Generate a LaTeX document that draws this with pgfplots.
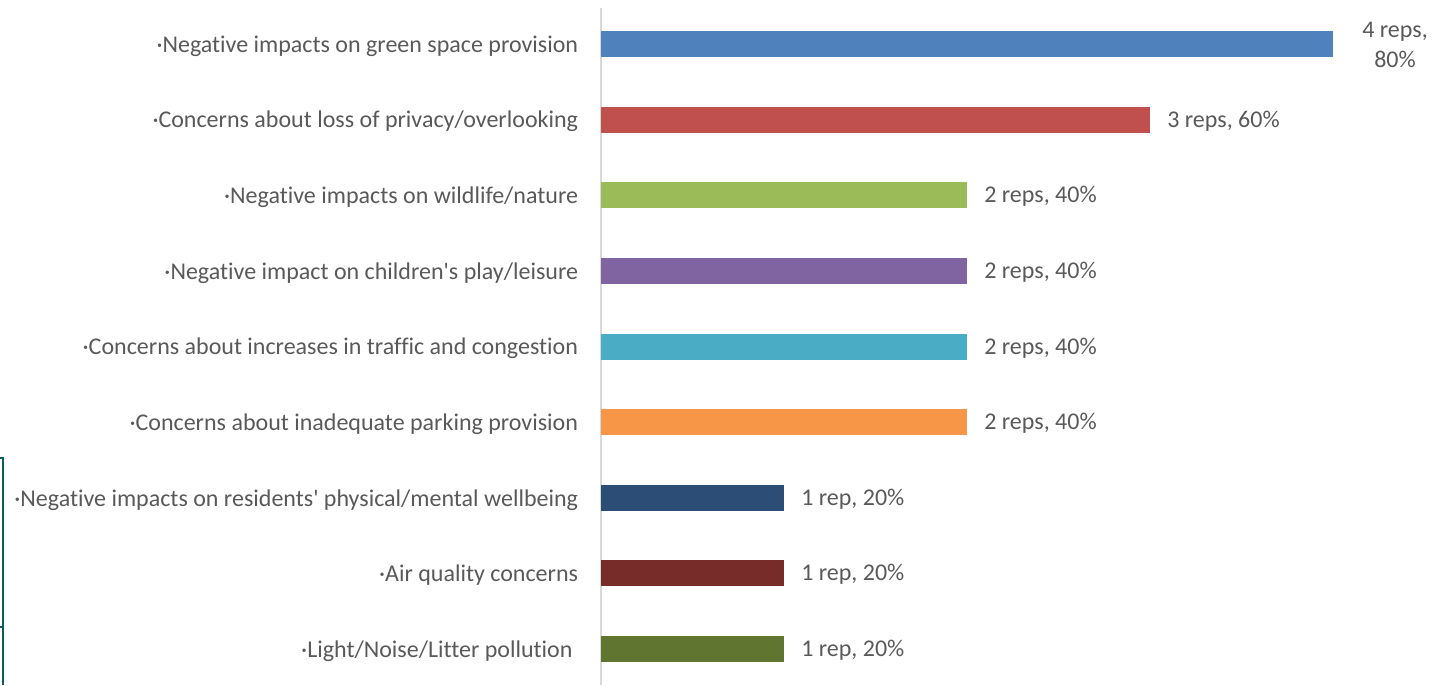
\documentclass[border=0pt]{standalone}
\usepackage{pgfplots}
\pgfplotsset{compat=1.18}
\usepackage{fontspec}
\setmainfont{Carlito}
% plain family without TeX quote mapping or ligatures, so apostrophes stay straight
\newfontfamily\labelfont[Ligatures=NoCommon]{Carlito}
\definecolor{txt}{HTML}{595959}
\definecolor{c1}{HTML}{4F81BD}
\definecolor{c2}{HTML}{C0504D}
\definecolor{c3}{HTML}{9BBB59}
\definecolor{c4}{HTML}{8064A2}
\definecolor{c5}{HTML}{4BACC6}
\definecolor{c6}{HTML}{F79646}
\definecolor{c7}{HTML}{2C4D75}
\definecolor{c8}{HTML}{772C2A}
\definecolor{c9}{HTML}{5F7530}
\definecolor{frame}{HTML}{0E5C5C}
\begin{document}
\begin{tikzpicture}
\begin{axis}[
  at={(450.75pt,0pt)}, anchor=south west,
  scale only axis,
  width=549pt, height=507.75pt,
  xmin=0, xmax=4,
  ymin=-0.476, ymax=8.476,
  y dir=reverse,
  xbar, bar width=19.5pt, bar shift=0pt,
  axis x line=none,
  axis y line*=left,
  y axis line style={draw=black!15, line width=1.5pt},
  ytick={0,...,8},
  major tick length=0pt,
  yticklabels={
    {·Negative impacts on green space provision},
    {·Concerns about loss of privacy/overlooking},
    {·Negative impacts on wildlife/nature},
    {·Negative impact on children's play/leisure},
    {·Concerns about increases in traffic and congestion},
    {·Concerns about inadequate parking provision},
    {·Negative impacts on residents' physical/mental wellbeing},
    {·Air quality concerns},
    {·Light/Noise/Litter pollution\ \ }},
  yticklabel style={font=\labelfont\fontsize{18}{21}\selectfont, text=txt, inner sep=0pt, xshift=-17pt, yshift=-1.5pt},
  every node near coord/.append style={font=\labelfont\fontsize{18}{22.5}\selectfont, text=txt, inner sep=0pt, anchor=west, xshift=12.75pt, yshift=-1pt},
  clip=false,
]
\addplot[fill=c1, draw=none, nodes near coords={4 reps,\\80\%},
  every node near coord/.append style={align=center, xshift=9pt}] coordinates {(4,0)};
\addplot[fill=c2, draw=none, nodes near coords={3 reps, 60\%}] coordinates {(3,1)};
\addplot[fill=c3, draw=none, nodes near coords={2 reps, 40\%}] coordinates {(2,2)};
\addplot[fill=c4, draw=none, nodes near coords={2 reps, 40\%}] coordinates {(2,3)};
\addplot[fill=c5, draw=none, nodes near coords={2 reps, 40\%}] coordinates {(2,4)};
\addplot[fill=c6, draw=none, nodes near coords={2 reps, 40\%}] coordinates {(2,5)};
\addplot[fill=c7, draw=none, nodes near coords={1 rep, 20\%}] coordinates {(1,6)};
\addplot[fill=c8, draw=none, nodes near coords={1 rep, 20\%}] coordinates {(1,7)};
\addplot[fill=c9, draw=none, nodes near coords={1 rep, 20\%}] coordinates {(1,8)};
\end{axis}
% bracket rule along the lower left edge
\draw[frame, line width=1.5pt] (0pt,170.25pt) -- (2.25pt,170.25pt) -- (2.25pt,0pt);
\draw[frame, line width=1.5pt] (0pt,43.5pt) -- (2.25pt,43.5pt);
\pgfresetboundingbox
\useasboundingbox (0pt,0pt) rectangle (1074.75pt,513.75pt);
\end{tikzpicture}
\end{document}
